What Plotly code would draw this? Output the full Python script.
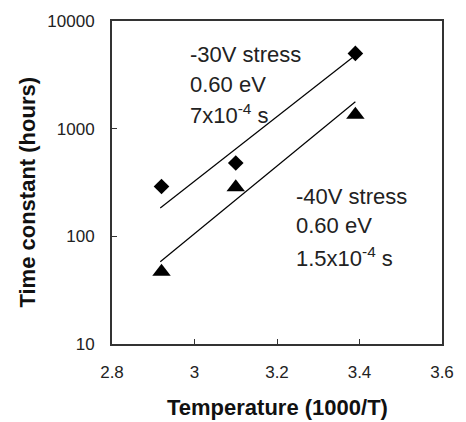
import plotly.graph_objects as go

# Data
temp = [2.92, 3.10, 3.39]
tau_30v = [290, 480, 5000]
tau_40v = [47, 285, 1350]
fit_x = [2.917, 3.39]
fit_30v = [183, 4800]
fit_40v = [58, 1780]

x_ticks = [2.8, 3.0, 3.2, 3.4, 3.6]
x_tick_labels = ["2.8", "3", "3.2", "3.4", "3.6"]
y_ticks = [10, 100, 1000, 10000]
y_tick_labels = ["10", "100", "1000", "10000"]

FONT = "Liberation Sans, Arial, sans-serif"

fig = go.Figure()
fig.add_trace(go.Scatter(x=fit_x, y=fit_30v, mode="lines",
                         line=dict(color="black", width=1.2), showlegend=False))
fig.add_trace(go.Scatter(x=fit_x, y=fit_40v, mode="lines",
                         line=dict(color="black", width=1.2), showlegend=False))
fig.add_trace(go.Scatter(x=temp, y=tau_30v, mode="markers",
                         marker=dict(symbol="diamond", size=12, color="black"),
                         showlegend=False))
fig.add_trace(go.Scatter(x=temp, y=tau_40v, mode="markers",
                         marker=dict(symbol="triangle-up", size=16, color="black"),
                         showlegend=False))

ann_font = dict(family=FONT, size=22, color="#222")
lines1 = ["-30V stress", "0.60 eV", "7x10<sup>-4</sup> s"]
ys1 = [0.896, 0.804, 0.712]
lines2 = ["-40V stress", "0.60 eV", "1.5x10<sup>-4</sup> s"]
ys2 = [0.457, 0.368, 0.270]
annotations = []
for t, yy in zip(lines1, ys1):
    annotations.append(dict(x=2.985, y=yy, xref="x", yref="paper", text=t,
                            showarrow=False, xanchor="left", yanchor="middle",
                            font=ann_font))
for t, yy in zip(lines2, ys2):
    annotations.append(dict(x=3.242, y=yy, xref="x", yref="paper", text=t,
                            showarrow=False, xanchor="left", yanchor="middle",
                            font=ann_font))
annotations.append(dict(x=0.5, y=-0.198, xref="paper", yref="paper",
                        text="<b>Temperature (1000/T)</b>", showarrow=False,
                        xanchor="center", yanchor="middle",
                        font=dict(family=FONT, size=22, color="#111")))
annotations.append(dict(x=-0.2555, y=0.471, xref="paper", yref="paper",
                        text="<b>Time constant (hours)</b>", showarrow=False,
                        textangle=-90, xanchor="center", yanchor="middle",
                        font=dict(family=FONT, size=22, color="#111")))

fig.update_layout(
    width=466, height=422,
    margin=dict(l=112, r=15, t=19, b=77.5),
    paper_bgcolor="white", plot_bgcolor="white",
    annotations=annotations,
    font=dict(family=FONT, size=17, color="#222"),
)
fig.update_xaxes(range=[2.8, 3.6], tickvals=x_ticks, ticktext=x_tick_labels,
                 ticks="inside", ticklen=5, tickwidth=1, tickcolor="#333",
                 showline=True, linecolor="#333", linewidth=2, mirror=True,
                 showgrid=False, zeroline=False, ticklabelstandoff=12,
                 tickfont=dict(family=FONT, size=17, color="#222"))
fig.update_yaxes(type="log", range=[1, 4], tickvals=y_ticks, ticktext=y_tick_labels,
                 ticks="inside", ticklen=5, tickwidth=1, tickcolor="#333",
                 showline=True, linecolor="#333", linewidth=2, mirror=True,
                 showgrid=False, zeroline=False, ticklabelstandoff=12,
                 tickfont=dict(family=FONT, size=17, color="#222"))

fig.write_html("out.html")
